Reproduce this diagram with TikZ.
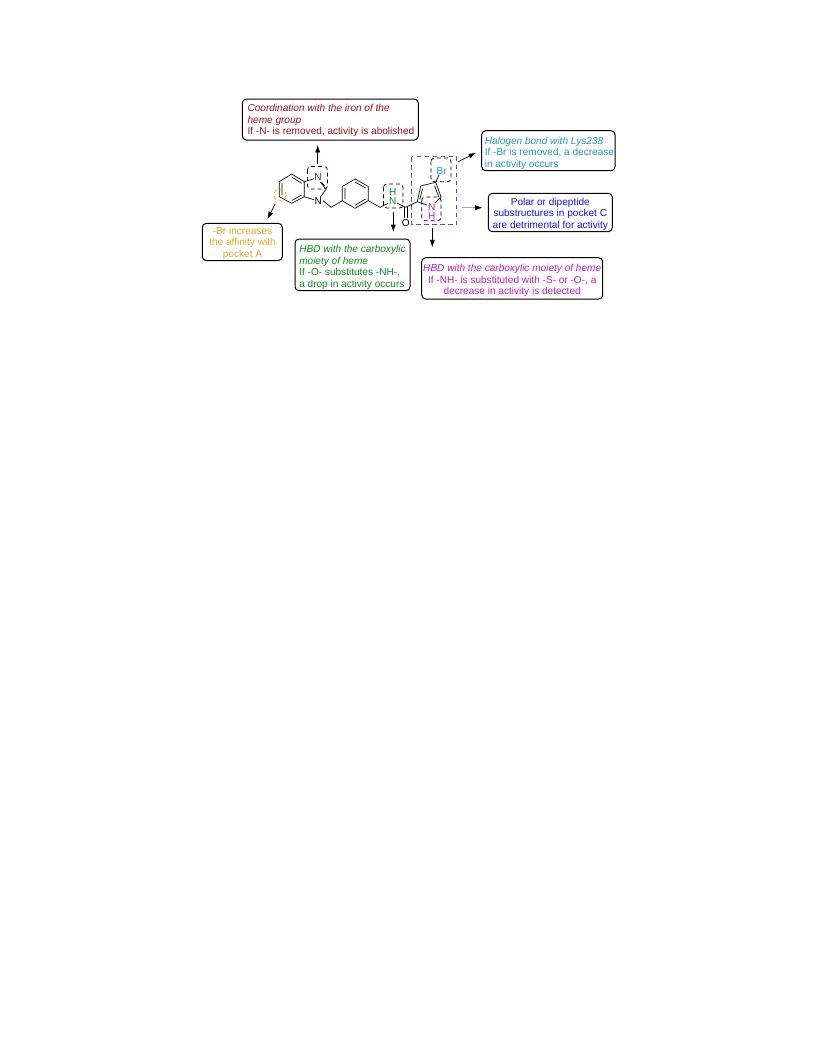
\documentclass[tikz,border=0pt]{standalone}
\usepackage{fontspec}
\setmainfont{Liberation Sans}
\usetikzlibrary{arrows.meta}
\definecolor{cred}{HTML}{96141E}
\definecolor{corange}{HTML}{E6A92E}
\definecolor{cgreen}{HTML}{108A1E}
\definecolor{cblue}{HTML}{2A93CC}
\definecolor{cpure}{HTML}{1414F0}
\definecolor{cmag}{HTML}{C020BE}
\definecolor{cperi}{HTML}{4A4AF5}
\tikzset{
 x=0.75pt,y=-0.75pt,
 bond/.style={line width=0.5pt,black},
 infobox/.style={draw=black,line width=0.75pt,rounded corners=3pt,fill=white},
 txt/.style={font=\fontsize{7.55pt}{8.7pt}\selectfont,inner sep=0pt,align=center},
 atom/.style={font=\fontsize{7.55pt}{8pt}\selectfont,inner sep=0.5pt,fill=white},
 dashbox/.style={draw=black,line width=0.6pt,dash pattern=on 3pt off 2.2pt,rounded corners=2.5pt},
 arr/.style={line width=0.5pt,-{Latex[length=5.5pt,width=3.8pt,color=black,fill=black]}},
}
\begin{document}
\begin{tikzpicture}
\useasboundingbox (0,0) rectangle (816,1056);
% boxes
\draw[infobox] (242.3,99) rectangle (418.3,140);
\node[txt,anchor=north west,align=left,text=cred] (t1) at (247.3,104){\textit{Coordination with the iron of the}\\\textit{heme group}\\If -N- is removed, activity is abolished};
\draw[infobox] (202.3,223.3) rectangle (282.3,260.5);
\node[txt,text=corange] (t2) at (242.5,243){-Br increases\\the affinity with\\pocket A};
\draw[infobox] (295,239) rectangle (410,290.7);
\node[txt,anchor=north west,align=left,text=cgreen] (t3) at (299,245){\textit{HBD with the carboxylic}\\\textit{moiety of heme}\\If -O- substitutes -NH-,\\a drop in activity occurs};
\draw[infobox] (481.7,130.7) rectangle (615,170.7);
\node[txt,anchor=north west,align=left,text=cblue] (t4) at (484.5,136.5){\textit{Halogen bond with Lys238}\\If -Br is removed, a decrease\\in activity occurs};
\draw[infobox] (488.3,193.3) rectangle (612.3,231.7);
\node[txt,text=cpure] (t5) at (550.3,214){Polar or dipeptide\\substructures in pocket C\\are detrimental for activity};
\draw[infobox] (421.7,257.7) rectangle (602.7,299);
\node[txt,text=cmag] (t6) at (512.2,280.5){\textit{HBD with the carboxylic moiety of heme}\\If -NH- is substituted with -S- or -O-, a\\decrease in activity is detected};
% bonds
\coordinate (a1) at (291.7,174);\coordinate (a2) at (304.3,181.7);\coordinate (a3) at (304.3,196.7);
\coordinate (a4) at (291.7,203.3);\coordinate (a5) at (279.3,196.7);\coordinate (a6) at (279.3,181.7);
\coordinate (c2) at (326,189.3);\coordinate (ch1) at (331,207.3);
\coordinate (r1) at (355,179);\coordinate (r2) at (368.3,186.5);\coordinate (r3) at (368.3,200.7);
\coordinate (r4) at (355,208.3);\coordinate (r5) at (342.3,200.7);\coordinate (r6) at (342.3,186.5);
\coordinate (ch2) at (380,207.3);\coordinate (co) at (405.7,207.3);
\coordinate (p2) at (417.3,201.7);\coordinate (p3) at (420.7,186);\coordinate (p4) at (435.7,182.3);\coordinate (p5) at (441,196.7);
\draw[bond] (a1)--(a2)--(a3)--(a4)--(a5)--(a6)--cycle;
\draw[bond] (291.7,177)--(301.5,183.3) (301.5,195)--(291.7,200.5) (282,195)--(282,183.3);
\draw[bond] (a2)--(318,177.5) (a3)--(318,201);
\draw[bond] (318,179)--(c2)--(319,199);
\draw[bond] (320,180)--(324.5,186);
\draw[bond] (321,199)--(ch1)--(r5);
\draw[bond] (r1)--(r2)--(r3)--(r4)--(r5)--(r6)--cycle;
\draw[bond] (355,182)--(365.6,188) (365.6,199)--(355,205.3) (345,199)--(345,188);
\draw[bond] (r3)--(ch2)--(392.7,201) (392.7,201)--(co)--(p2);
\draw[bond] (404.7,207.3)--(404.7,218.5) (406.9,207.3)--(406.9,218.5);
\draw[bond] (p2)--(p3)--(p4)--(p5)--(431.7,206.7)--(p2);
\draw[bond] (419.7,199.5)--(422.7,188.5) (434.7,186)--(438.8,196.8);
\draw[bond] (p4)--(439,175);
% atoms
\node[atom,text=cred] (nN1) at (318,177.5){N};
\node[atom,text=black] (nN2) at (318.3,201){N};
\node[atom,text=cgreen] (nN3) at (392.7,201){N};
\node[atom,text=cgreen,fill=none] (nH3) at (392.7,191.7){H};
\node[atom,text=black] (nO) at (405.7,222.7){O};
\node[atom,text=cmag] (nN4) at (431.7,206.7){N};
\node[atom,text=cmag,fill=none] (nH4) at (431.7,215.7){H};
\node[atom,text=cblue] (nBr) at (441.7,170.7){Br};
% dashed
\draw[dashbox] (307.5,166.5) rectangle (327.5,189);
\draw[dashbox,draw=corange] (280,195) circle (6);
\draw[dashbox] (383.5,184) rectangle (403,208);
\draw[dashbox] (421.7,197) rectangle (441,220.7);
\draw[dashbox] (431,158) rectangle (451,181.7);
\draw[draw=cperi,line width=1pt,dash pattern=on 3.6pt off 2.4pt] (411.7,156.7) rectangle (456.7,224.5);
% arrows
\coordinate (s1) at (317.7,164);\coordinate (e1) at (317.7,145);
\draw[arr] (s1)--(e1);
\coordinate (s2) at (275,204);\coordinate (e2) at (267.5,219);
\draw[arr] (s2)--(e2);
\coordinate (s3) at (393.3,212);\coordinate (e3) at (393.3,232);
\draw[arr] (s3)--(e3);
\coordinate (s4) at (458.3,161.7);\coordinate (e4) at (476,152.7);
\draw[arr] (s4)--(e4);
\coordinate (s5) at (462.3,207.7);\coordinate (e5) at (482.5,207.7);
\draw[arr,draw=gray!70] (s5)--(e5);
\coordinate (s6) at (432.3,228);\coordinate (e6) at (432.3,247.3);
\draw[arr] (s6)--(e6);
\end{tikzpicture}
\end{document}
